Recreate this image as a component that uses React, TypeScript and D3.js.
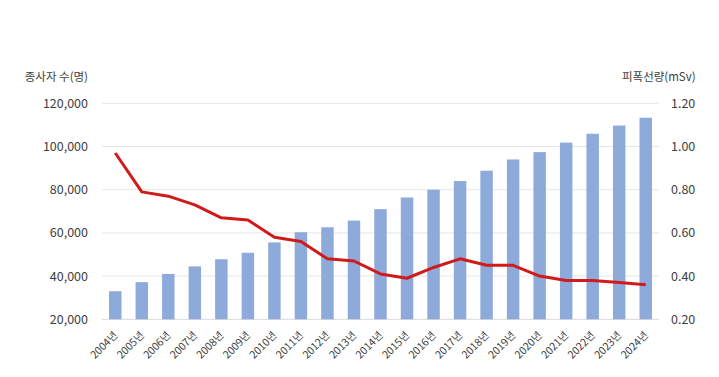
import React from "react";
import * as d3 from "d3";

const years = ["2004년","2005년","2006년","2007년","2008년","2009년","2010년","2011년","2012년","2013년","2014년","2015년","2016년","2017년","2018년","2019년","2020년","2021년","2022년","2023년","2024년"];
const workers = [33000,37200,41000,44500,47800,50800,55600,60300,62600,65700,71000,76400,80000,84000,88800,94000,97400,101800,105900,109700,113300];
const dose = [0.97,0.79,0.77,0.73,0.67,0.66,0.58,0.56,0.48,0.47,0.41,0.39,0.44,0.48,0.45,0.45,0.40,0.38,0.38,0.37,0.36];
const leftTicks = [20000,40000,60000,80000,100000,120000];
const rightTicks = [0.2,0.4,0.6,0.8,1.0,1.2];

const W = 719, H = 377;
const L = 102, R = 659, T = 103.3, B = 319.3;
const font = "'Malgun Gothic','Noto Sans CJK KR','Noto Sans',sans-serif";

export default function App() {
  const x = d3.scaleBand<string>().domain(years).range([L, R]).paddingInner(0.53).paddingOuter(0.265);
  const yL = d3.scaleLinear().domain([20000, 120000]).range([B, T]);
  const yR = d3.scaleLinear().domain([0.2, 1.2]).range([B, T]);
  const line = d3.line<number>()
    .x((_, i) => (x(years[i]) as number) + x.bandwidth() / 2)
    .y((d) => yR(d));
  const fmt = d3.format(",");
  return (
    <svg width={W} height={H} style={{ position: "absolute", left: 0, top: 0, background: "#fff" }} fontFamily={font}>
      <rect width={W} height={H} fill="#fff" />
      {leftTicks.map((t) => (
        <line key={t} x1={L} x2={R} y1={yL(t)} y2={yL(t)} stroke={t === 20000 ? "#d9d9d9" : "#e6e6e6"} strokeWidth={1} />
      ))}
      {workers.map((v, i) => (
        <rect key={i} x={x(years[i])} y={yL(v)} width={x.bandwidth()} height={B - yL(v)} fill="#8eaadb" />
      ))}
      <path d={line(dose) || ""} fill="none" stroke="#cf1b1b" strokeWidth={3} strokeLinejoin="round" />
      {leftTicks.map((t) => (
        <text key={t} x={88} y={yL(t) + 4.5} textAnchor="end" fontSize={12.5} fill="#404040">{fmt(t)}</text>
      ))}
      {rightTicks.map((t) => (
        <text key={t} x={671} y={yR(t) + 4.5} textAnchor="start" fontSize={12.5} fill="#404040">{t.toFixed(2)}</text>
      ))}
      <text x={88} y={81} textAnchor="end" fontSize={11.5} fill="#404040">종사자 수(명)</text>
      <text x={622} y={81} textAnchor="start" fontSize={11.5} fill="#404040">피폭선량(mSv)</text>
      {years.map((yr) => {
        const cx = (x(yr) as number) + x.bandwidth() / 2 + 3;
        const cy = 336;
        return (
          <text key={yr} transform={`translate(${cx},${cy}) rotate(-45)`} textAnchor="end" fontSize={10.5} fill="#404040">{yr}</text>
        );
      })}
    </svg>
  );
}
